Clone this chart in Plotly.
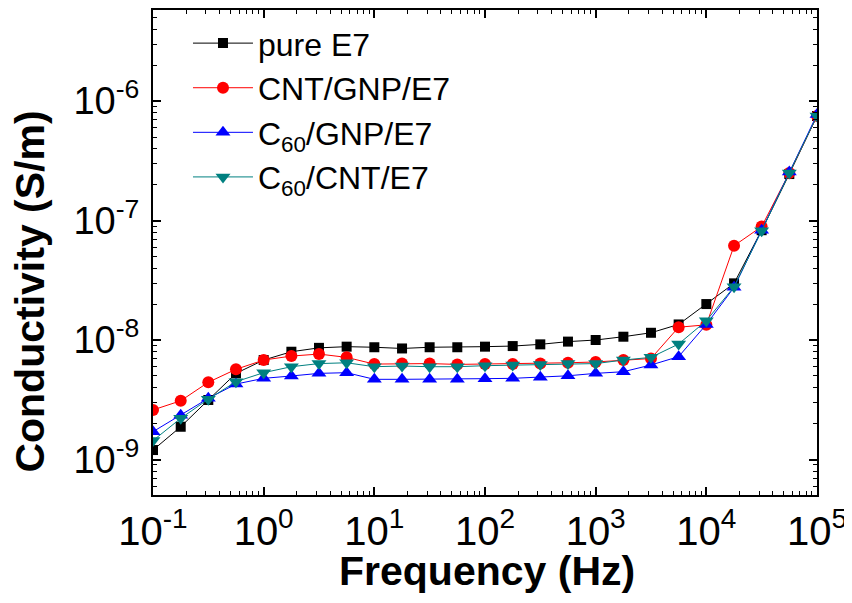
import plotly.graph_objects as go

freq = [0.1, 0.178, 0.316, 0.562, 1, 1.78, 3.16, 5.62, 10, 17.8, 31.6, 56.2, 100,
        178, 316, 562, 1000, 1780, 3160, 5620, 10000, 17800, 31600, 56200, 100000]

pure_e7 = [1.2e-9, 1.88e-9, 3.15e-9, 5.26e-9, 6.8e-9, 7.98e-9, 8.6e-9, 8.8e-9, 8.7e-9,
           8.5e-9, 8.7e-9, 8.7e-9, 8.8e-9, 8.9e-9, 9.2e-9, 9.7e-9, 1.0e-8, 1.066e-8,
           1.15e-8, 1.35e-8, 2.0e-8, 2.98e-8, 8.3e-8, 2.45e-7, 7.5e-7]
cnt_gnp = [2.6e-9, 3.1e-9, 4.43e-9, 5.69e-9, 6.8e-9, 7.34e-9, 7.63e-9, 7.16e-9, 6.29e-9,
           6.35e-9, 6.35e-9, 6.25e-9, 6.3e-9, 6.3e-9, 6.35e-9, 6.45e-9, 6.55e-9, 6.8e-9,
           7.0e-9, 1.28e-8, 1.34e-8, 6.15e-8, 8.9e-8, 2.5e-7, 7.5e-7]
c60_gnp = [1.71e-9, 2.35e-9, 3.25e-9, 4.28e-9, 4.78e-9, 5.0e-9, 5.26e-9, 5.33e-9, 4.69e-9,
           4.69e-9, 4.69e-9, 4.69e-9, 4.75e-9, 4.78e-9, 4.88e-9, 5.02e-9, 5.26e-9, 5.43e-9,
           6.18e-9, 7.26e-9, 1.35e-8, 2.76e-8, 8.3e-8, 2.55e-7, 7.7e-7]
c60_cnt = [1.44e-9, 2.21e-9, 3.2e-9, 4.48e-9, 5.33e-9, 5.98e-9, 6.35e-9, 6.45e-9, 5.98e-9,
           6.06e-9, 5.98e-9, 5.98e-9, 6.1e-9, 6.18e-9, 6.25e-9, 6.35e-9, 6.35e-9, 6.8e-9,
           7.16e-9, 9.26e-9, 1.45e-8, 2.79e-8, 8.2e-8, 2.5e-7, 7.5e-7]

names = ["pure E7", "CNT/GNP/E7", "C<sub>60</sub>/GNP/E7", "C<sub>60</sub>/CNT/E7"]
colors = ["#000000", "#FF0000", "#0000FF", "#008080"]
symbols = ["square", "circle", "triangle-up", "triangle-down"]
sizes = [10, 12, 13, 13]
series = [pure_e7, cnt_gnp, c60_gnp, c60_cnt]

x_tickvals = [0.1, 1, 10, 100, 1000, 10000, 100000]
x_ticktext = ["10<sup>-1</sup>", "10<sup>0</sup>", "10<sup>1</sup>", "10<sup>2</sup>",
              "10<sup>3</sup>", "10<sup>4</sup>", "10<sup>5</sup>"]
y_tickvals = [1e-9, 1e-8, 1e-7, 1e-6]
y_ticktext = ["10<sup>-9</sup>", "10<sup>-8</sup>", "10<sup>-7</sup>", "10<sup>-6</sup>"]

FONT = "Liberation Sans, Arial, sans-serif"

fig = go.Figure()
for name, ys, c, s, sz in zip(names, series, colors, symbols, sizes):
    fig.add_trace(go.Scatter(
        x=freq, y=ys, name=name, mode="lines+markers",
        line=dict(color=c, width=1),
        marker=dict(symbol=s, size=sz, color=c, line=dict(width=0)),
    ))

axis_common = dict(
    type="log", showline=True, linecolor="black", linewidth=2, mirror="ticks",
    ticks="inside", ticklen=8, tickwidth=1.5, tickcolor="black", showgrid=False,
    zeroline=False, automargin=False,
    minor=dict(ticks="inside", ticklen=4, tickwidth=1, tickcolor="black",
               showgrid=False, dtick="D1"),
)

fig.update_layout(
    width=852, height=603,
    margin=dict(l=145, r=43, t=2, b=116),
    paper_bgcolor="white", plot_bgcolor="white",
    font=dict(family=FONT, color="black"),
    showlegend=True,
    legend=dict(x=0.0527, y=0.988, xanchor="left", yanchor="top",
                bgcolor="rgba(0,0,0,0)", font=dict(size=32, family=FONT),
                itemwidth=60, tracegroupgap=0),
    xaxis=dict(axis_common, range=[-1, 5], tickvals=x_tickvals, ticktext=x_ticktext,
               tickfont=dict(size=40, family=FONT)),
    yaxis=dict(axis_common, range=[-9.297, -5.238], tickvals=y_tickvals,
               ticktext=y_ticktext, tickfont=dict(size=38, family=FONT),
               ticklabelstandoff=4),
    annotations=[
        dict(text="<b>Frequency (Hz)</b>", xref="paper", yref="paper",
             x=0.5023, y=-0.1567, xanchor="center", yanchor="middle", showarrow=False,
             font=dict(size=41, family=FONT)),
        dict(text="<b>Conductivity (S/m)</b>", xref="paper", yref="paper",
             x=-0.1845, y=0.4204, xanchor="center", yanchor="middle", showarrow=False,
             textangle=-90, font=dict(size=41, family=FONT)),
    ],
)

fig.write_html("out.html")
